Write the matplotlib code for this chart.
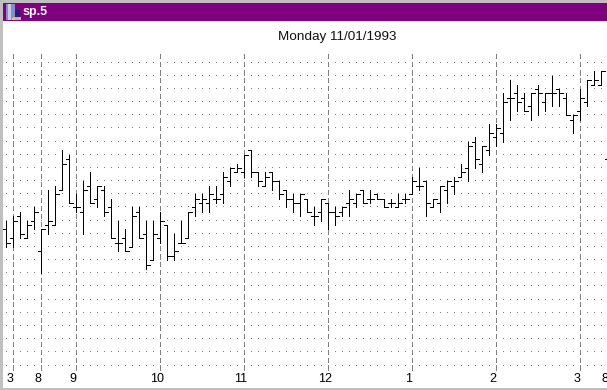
import matplotlib

matplotlib.use("Agg")
import matplotlib.pyplot as plt
import numpy as np
from matplotlib.patches import Rectangle

# prices in exchange ticks, one entry per bar
opens = [31, 29, 34, 29, 33, 26, 32, 32, 40, 47, 36, 35, 41, 38, 40, 36, 28, 29, 27, 35, 30, 24,
         29, 32, 25, 28, 29, 36, 37, 37, 38, 39, 42, 44, 44, 49, 44, 41, 44, 42, 40, 38, 37, 38,
         34, 35, 37, 35, 35, 37, 37, 40, 38, 39, 38, 37, 36, 38, 39, 41, 42, 36, 37, 40, 41, 43,
         45, 51, 46, 49, 52, 53, 61, 62, 61, 59, 63, 60, 62, 63, 61, 56, 58, 60, 64, 64, 47]
highs = [33, 34, 35, 33, 36, 31, 40, 41, 49, 48, 39, 42, 44, 41, 41, 38, 33, 31, 36, 36, 33, 33,
         35, 32, 30, 33, 35, 39, 39, 41, 41, 44, 45, 46, 48, 49, 44, 44, 44, 42, 40, 39, 39, 38,
         36, 38, 37, 36, 36, 40, 39, 40, 40, 39, 38, 38, 39, 39, 43, 45, 42, 38, 41, 42, 43, 46,
         51, 52, 50, 55, 55, 62, 65, 64, 62, 62, 64, 62, 66, 63, 62, 57, 63, 65, 67, 67, 47]
lows = [27, 27, 29, 29, 31, 21, 30, 32, 40, 37, 35, 30, 37, 36, 34, 29, 26, 26, 27, 29, 22, 24,
        28, 24, 24, 28, 29, 34, 35, 35, 37, 37, 41, 44, 43, 43, 41, 41, 40, 38, 36, 35, 34, 35,
        32, 33, 31, 32, 34, 34, 36, 37, 37, 38, 36, 36, 36, 37, 39, 40, 34, 36, 35, 37, 39, 43,
        42, 45, 44, 48, 50, 51, 56, 58, 58, 56, 57, 58, 59, 59, 57, 53, 56, 59, 64, 64, 47]
closes = [28, 33, 30, 32, 35, 31, 33, 39, 46, 37, 36, 40, 37, 41, 35, 29, 28, 26, 34, 29, 23, 30,
          33, 25, 26, 28, 35, 38, 38, 39, 38, 43, 45, 45, 48, 44, 42, 43, 42, 39, 38, 37, 39, 35,
          34, 38, 35, 34, 36, 38, 39, 37, 38, 38, 36, 37, 37, 38, 42, 41, 37, 38, 41, 42, 42, 44,
          50, 47, 50, 53, 54, 60, 61, 60, 58, 62, 62, 62, 62, 62, 57, 57, 61, 65, 65, 67, 47]

session_bars = [1, 5, 10, 22, 34, 46, 58, 70, 82, 86]
session_labels = ["3", "8", "9", "10", "11", "12", "1", "2", "3", "8"]
grid_levels = list(range(0, 70, 3))

title = "Monday 11/01/1993"
window_name = "sp.5"

BAR_PX = 7.0
LEVEL_PX = 4.39
FIRST_BAR_PX = 6.5
LEVEL0_PX = 365.5
W, H = 607, 390

fig = plt.figure(figsize=(W / 100, H / 100), dpi=100, facecolor="white")
ax = fig.add_axes([0, 0, 1, 1])
ax.set_xlim(-FIRST_BAR_PX / BAR_PX, (W - FIRST_BAR_PX) / BAR_PX)
ax.set_ylim((LEVEL0_PX - H) / LEVEL_PX, LEVEL0_PX / LEVEL_PX)
ax.axis("off")

px = 0.72
bars = np.arange(len(opens))

# dotted grid, one dot per bar on every third tick
gx, gy = np.meshgrid(bars, grid_levels)
ax.plot(gx.ravel(), gy.ravel(), ls="", marker=",", color="#808080", zorder=1)

# session separators
top = (LEVEL0_PX - 53) / LEVEL_PX
bottom = (LEVEL0_PX - 370) / LEVEL_PX
ax.vlines(session_bars, bottom, top, colors="#808080", linewidth=px,
          linestyles=(0, (5, 3)), antialiased=False, zorder=2)

# OHLC bars
tick = 0.5
ax.vlines(bars[:-1], lows[:-1], highs[:-1], colors="black", linewidth=px, antialiased=False, zorder=3)
ax.hlines(opens, bars - tick, bars, colors="black", linewidth=px, antialiased=False, zorder=3)
ax.hlines(closes[:-1], bars[:-1], bars[:-1] + tick, colors="black", linewidth=px, antialiased=False, zorder=3)

label_y = (LEVEL0_PX - 379) / LEVEL_PX
for bar, label in zip(session_bars, session_labels):
    ax.text(bar - 0.5, label_y, label, ha="center", va="center", fontsize=9,
            family="Liberation Sans", color="black", clip_on=True)

ax.text((337 - FIRST_BAR_PX) / BAR_PX, (LEVEL0_PX - 37) / LEVEL_PX, title, ha="center", va="center",
        fontsize=9.7, family="Liberation Sans", color="#111111")

# window frame and title bar
chrome = fig.add_axes([0, 0, 1, 1], facecolor="none", zorder=5)
chrome.set_xlim(0, W)
chrome.set_ylim(H, 0)
chrome.axis("off")
chrome.add_patch(Rectangle((0, 0), W, 3, color="#c0c0c0", lw=0))
chrome.add_patch(Rectangle((0, 0), 3, H, color="#c0c0c0", lw=0))
chrome.add_patch(Rectangle((0, 388), W, 2, color="#c0c0c0", lw=0))
chrome.add_patch(Rectangle((3, 3), W - 3, 18, color="#800080", lw=0))
chrome.add_patch(Rectangle((6, 4), 9, 16, color="#8a8ac8", lw=0))
chrome.add_patch(Rectangle((8, 4), 3, 16, color="#c8c8e8", lw=0))
chrome.add_patch(Rectangle((15, 10), 5, 8, color="#20207a", lw=0))
chrome.add_patch(Rectangle((13, 17), 8, 3, color="#b8b8b0", lw=0))
chrome.add_patch(Rectangle((12, 18), 3, 2, color="#e8d060", lw=0))
chrome.text(23, 12.5, window_name, color="white", fontsize=9, fontweight="bold",
            family="Liberation Sans", ha="left", va="center")

fig.savefig("out.png", dpi=100)
plt.close(fig)
